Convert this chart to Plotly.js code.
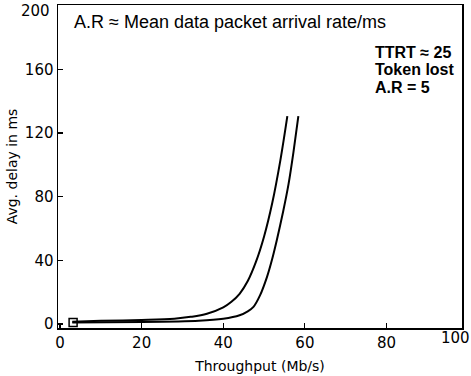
<!DOCTYPE html>
<html>
<head>
<meta charset="utf-8">
<script src="https://cdn.plot.ly/plotly-3.0.1.min.js"></script>
<style>html,body{margin:0;padding:0;background:#fff;}#chart{width:471px;height:376px;}</style>
</head>
<body>
<div id="chart"></div>
<script>
// Curve reaching high delay first (left curve)
const curveA_x = [3, 10, 20, 28, 32, 36, 40, 42, 44, 46, 48, 50, 52, 54, 55.7];
const curveA_y = [1.5, 2, 2.5, 3.3, 4.5, 6.5, 10.5, 14, 19, 27, 39, 55, 76, 103, 130.6];
// Right curve
const curveB_x = [3, 20, 34, 40, 44, 46, 47.4, 49, 50.7, 52, 53.1, 54.7, 56, 57.2, 58.4];
const curveB_y = [1, 1.2, 2, 3.3, 5.5, 8, 10.8, 18, 29.5, 41, 52.5, 71, 88, 108, 130.6];
// Start marker
const start_x = [3.2];
const start_y = [1];

const xTicks = [0, 20, 40, 60, 80, 100];
const yTicks = [0, 40, 80, 120, 160, 200];

const tickFont = {family: 'DejaVu Sans', size: 15, color: '#000'};
const noteFont = {family: 'Liberation Sans', size: 16, color: '#000', weight: 'bold'};

const traces = [
  {x: curveA_x, y: curveA_y, mode: 'lines', line: {color: '#000', width: 2, shape: 'spline', smoothing: 1}, showlegend: false},
  {x: curveB_x, y: curveB_y, mode: 'lines', line: {color: '#000', width: 2, shape: 'spline', smoothing: 0.7}, showlegend: false},
  {x: start_x, y: start_y, mode: 'markers', marker: {symbol: 'square-open', size: 8, color: '#000', line: {width: 1.5}}, showlegend: false}
];

const layout = {
  width: 471, height: 376,
  margin: {l: 58, r: 9, t: 5, b: 48},
  paper_bgcolor: '#fff', plot_bgcolor: '#fff',
  xaxis: {
    range: [-0.5, 98.5], tickvals: xTicks, ticktext: xTicks.map(String),
    ticks: 'inside', ticklen: 5, tickcolor: '#000', tickwidth: 1.2,
    showline: true, linecolor: '#000', linewidth: 1.5, mirror: true,
    showgrid: false, zeroline: false, tickfont: tickFont,
    title: {text: 'Throughput (Mb/s)', font: {family: 'DejaVu Sans', size: 14, color: '#000'}, standoff: 10}
  },
  yaxis: {
    range: [-2.5, 200.4], tickvals: yTicks, ticktext: yTicks.map(String),
    ticks: 'inside', ticklen: 5, tickcolor: '#000', tickwidth: 1.2,
    showline: true, linecolor: '#000', linewidth: 1.5, mirror: true,
    showgrid: false, zeroline: false, tickfont: tickFont,
    title: {text: 'Avg. delay in ms', font: {family: 'DejaVu Sans', size: 14, color: '#000'}, standoff: 4}
  },
  annotations: [
    {xref: 'paper', yref: 'paper', x: 0.035, y: 0.947, xanchor: 'left', yanchor: 'middle', align: 'left', showarrow: false,
     text: 'A.R ≈ Mean data packet arrival rate/ms', font: {family: 'Liberation Sans', size: 18, color: '#000'}},
    {xref: 'paper', yref: 'paper', x: 0.780, y: 0.854, xanchor: 'left', yanchor: 'middle', align: 'left', showarrow: false,
     text: 'TTRT ≈ 25', font: noteFont},
    {xref: 'paper', yref: 'paper', x: 0.780, y: 0.800, xanchor: 'left', yanchor: 'middle', align: 'left', showarrow: false,
     text: 'Token lost', font: noteFont},
    {xref: 'paper', yref: 'paper', x: 0.780, y: 0.746, xanchor: 'left', yanchor: 'middle', align: 'left', showarrow: false,
     text: 'A.R = 5', font: noteFont},
    {xref: 'paper', yref: 'paper', x: 0.983, y: -0.031, xanchor: 'center', yanchor: 'middle', showarrow: false,
     text: '100', font: tickFont},
    {xref: 'paper', yref: 'paper', x: -0.015, y: 0.981, xanchor: 'right', yanchor: 'middle', showarrow: false,
     text: '200', font: tickFont}
  ]
};

Plotly.newPlot('chart', traces, layout, {displayModeBar: false, staticPlot: true});
</script>
</body>
</html>
